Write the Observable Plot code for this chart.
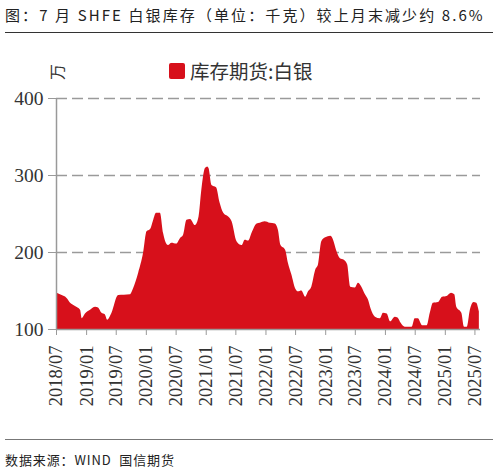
<!DOCTYPE html>
<html>
<head>
<meta charset="utf-8">
<script src="https://cdn.jsdelivr.net/npm/d3@7"></script>
<script src="https://cdn.jsdelivr.net/npm/@observablehq/plot@0.6"></script>
<style>
  html, body { margin: 0; padding: 0; background: #fff; }
  #wrap { position: relative; width: 498px; height: 473px; overflow: hidden; }
  #title { position: absolute; left: 5px; top: 4px; font: 15px "Noto Sans CJK SC", sans-serif; color: #222; letter-spacing: 2.1px; white-space: nowrap; }
  #topline { position: absolute; left: 5px; top: 32px; width: 488px; height: 0; border-top: 1.5px solid #333; }
  #botline { position: absolute; left: 5px; top: 439px; width: 488px; height: 0; border-top: 1.5px solid #777; }
  #source { position: absolute; left: 5px; top: 450px; font: 13px "Noto Sans CJK SC", sans-serif; color: #222; letter-spacing: 0.9px; white-space: nowrap; }
  #legend { position: absolute; left: 169px; top: 56px; display: flex; align-items: center; font: 19.5px "Noto Sans CJK SC", sans-serif; color: #333; white-space: nowrap; }
  #legend .sw { width: 16px; height: 16px; background: #d7101b; border-radius: 2px; margin-right: 5px; }
  #unit { position: absolute; left: 48px; top: 60px; font: 16px "Noto Sans CJK SC", sans-serif; color: #333; transform: rotate(-90deg); transform-origin: center; }
  #chart { position: absolute; left: 0; top: 0; }
</style>
</head>
<body>
<div id="wrap">
  <div id="chart"></div>
  <div id="title">图：7 月 SHFE 白银库存（单位：千克）较上月末减少约 8.6%</div>
  <div id="topline"></div>
  <div id="unit">万</div>
  <div id="legend"><div class="sw"></div><span>库存期货:白银</span></div>
  <div id="botline"></div>
  <div id="source">数据来源：WIND&nbsp; 国信期货</div>
</div>
<script>
const seriesName = "库存期货:白银";
const dates = [
  "2018-07-05","2018-07-25","2018-09-05","2018-09-25","2018-10-25","2018-11-25","2018-12-05","2018-12-25",
  "2019-01-25","2019-02-25","2019-03-15","2019-04-05","2019-04-25","2019-05-10","2019-06-05","2019-07-15",
  "2019-09-25","2019-10-15","2019-11-15","2019-12-15","2020-01-05","2020-01-27","2020-02-15","2020-03-03",
  "2020-03-27","2020-04-15","2020-05-15","2020-06-05","2020-07-05","2020-07-27","2020-08-15","2020-09-05",
  "2020-09-27","2020-10-27","2020-11-18","2020-12-05","2020-12-27","2021-01-10","2021-01-18","2021-02-05",
  "2021-03-05","2021-03-27","2021-04-18","2021-05-18","2021-06-08","2021-07-08","2021-08-08","2021-08-27",
  "2021-09-18","2021-10-08","2021-11-08","2021-11-27","2021-12-27","2022-01-27","2022-02-27","2022-03-18",
  "2022-04-03","2022-05-01","2022-05-18","2022-06-08","2022-07-01","2022-07-18","2022-08-08","2022-09-01",
  "2022-09-18","2022-10-08","2022-11-01","2022-11-18","2022-12-08","2023-01-01","2023-02-01","2023-02-18",
  "2023-03-08","2023-04-01","2023-04-25","2023-05-15","2023-06-03","2023-07-01","2023-07-20","2023-08-10",
  "2023-09-01","2023-09-20","2023-10-05","2023-11-01","2023-12-01","2023-12-20","2024-01-12","2024-02-01",
  "2024-03-01","2024-03-18","2024-04-06","2024-05-01","2024-06-12","2024-07-01","2024-07-20","2024-08-15",
  "2024-09-12","2024-10-01","2024-10-20","2024-11-20","2024-12-15","2025-01-12","2025-02-08","2025-02-28",
  "2025-03-12","2025-04-12","2025-04-28","2025-05-15","2025-06-03","2025-06-25","2025-07-12","2025-07-28"
];
const values = [
  147,145,140,134,130,125,114,120,
  125,129,128,121,119,112,121,144,
  145,153,173,199,227,230,242,251,
  251,225,209,212,211,218,222,242,
  243,235,246,281,309,311,309,287,
  284,264,251,246,240,214,209,216,
  215,225,237,238,240,238,237,229,
  209,203,186,171,153,149,150,142,
  149,155,177,184,214,219,221,216,
  203,192,190,184,155,154,160,155,
  145,138,127,116,114,121,120,110,
  116,115,108,103,103,114,114,105,
  105,121,134,135,142,143,147,145,
  129,121,103,103,125,135,134,123
];
const tickLabels = ["2018/07","2019/01","2019/07","2020/01","2020/07","2021/01","2021/07","2022/01","2022/07","2023/01","2023/07","2024/01","2024/07","2025/01","2025/07"];
const yTicks = [100, 200, 300, 400];

const parse = d3.utcParse("%Y-%m-%d");
const data = dates.map((d, i) => ({date: parse(d), value: values[i]}));
const tickDates = tickLabels.map(s => d3.utcParse("%Y/%m")(s));
const fmt = d3.utcFormat("%Y/%m");
const red = "#d7101b";
const serif = "'Liberation Serif', 'DejaVu Serif', serif";

const chart = Plot.plot({
  width: 498,
  height: 473,
  marginLeft: 56,
  marginRight: 18,
  marginTop: 98,
  marginBottom: 144,
  style: {background: "transparent", overflow: "visible"},
  x: {type: "utc", domain: [parse("2018-07-01"), parse("2025-08-04")]},
  y: {domain: [100, 400]},
  marks: [
    Plot.ruleY(yTicks.slice(1), {stroke: "#9a9a9a", strokeWidth: 1.3, strokeDasharray: "11,5"}),
    Plot.areaY(data, {x: "date", y1: 100, y2: "value", fill: red, curve: "monotone-x"}),
    Plot.ruleY([100], {stroke: "#999", strokeWidth: 1.3}),
    Plot.ruleX([parse("2018-07-01")], {y1: 100, y2: 400, stroke: "#999", strokeWidth: 1.5}),
    Plot.axisY({ticks: yTicks, tickSize: 8, tickPadding: 5, stroke: "#999", fontSize: 19.5, fontFamily: serif, fill: "#333", label: null}),
    Plot.axisX({ticks: tickDates, tickFormat: fmt, tickRotate: -90, tickSize: 6, tickPadding: 10, stroke: "#999", fontSize: 18.5, fontFamily: serif, fill: "#333", label: null})
  ]
});
document.getElementById("chart").appendChild(chart);
</script>
</body>
</html>
